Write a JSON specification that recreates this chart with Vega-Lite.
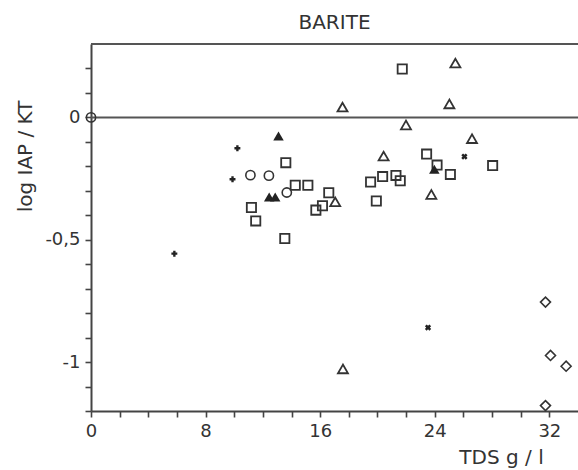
{
  "$schema": "https://vega.github.io/schema/vega-lite/v6.json",
  "width": 487,
  "height": 367,
  "autosize": "none",
  "padding": {"left": 91, "top": 44, "right": 0, "bottom": 59},
  "background": "white",
  "view": {"stroke": null},
  "title": {"text": "BARITE", "font": "DejaVu Sans", "fontSize": 20, "fontWeight": "normal", "color": "#333", "anchor": "middle", "offset": 10},
  "config": {
    "axis": {"grid": false, "domainColor": "#444", "domainWidth": 2, "tickColor": "#444", "tickWidth": 1.6, "tickSize": 6,
      "labelFont": "DejaVu Sans", "labelFontSize": 18, "labelColor": "#333",
      "titleFont": "DejaVu Sans", "titleFontSize": 20, "titleFontWeight": "normal", "titleColor": "#333"},
    "point": {"opacity": 1}
  },
  "datasets": {
    "pts": [
      {"tds": 13.6, "logiap": -0.185, "sym": "square"},
      {"tds": 14.26, "logiap": -0.277, "sym": "square"},
      {"tds": 15.14, "logiap": -0.277, "sym": "square"},
      {"tds": 11.2, "logiap": -0.368, "sym": "square"},
      {"tds": 11.5, "logiap": -0.423, "sym": "square"},
      {"tds": 16.6, "logiap": -0.308, "sym": "square"},
      {"tds": 15.7, "logiap": -0.379, "sym": "square"},
      {"tds": 16.16, "logiap": -0.361, "sym": "square"},
      {"tds": 13.53, "logiap": -0.495, "sym": "square"},
      {"tds": 21.73, "logiap": 0.198, "sym": "square"},
      {"tds": 23.43, "logiap": -0.15, "sym": "square"},
      {"tds": 24.16, "logiap": -0.195, "sym": "square"},
      {"tds": 25.09, "logiap": -0.233, "sym": "square"},
      {"tds": 28.04, "logiap": -0.197, "sym": "square"},
      {"tds": 20.36, "logiap": -0.242, "sym": "square"},
      {"tds": 21.29, "logiap": -0.237, "sym": "square"},
      {"tds": 21.59, "logiap": -0.259, "sym": "square"},
      {"tds": 19.52, "logiap": -0.264, "sym": "square"},
      {"tds": 19.92, "logiap": -0.342, "sym": "square"},
      {"tds": 25.44, "logiap": 0.222, "sym": "triangle"},
      {"tds": 17.56, "logiap": 0.042, "sym": "triangle"},
      {"tds": 25.02, "logiap": 0.055, "sym": "triangle"},
      {"tds": 21.99, "logiap": -0.031, "sym": "triangle"},
      {"tds": 26.6, "logiap": -0.087, "sym": "triangle"},
      {"tds": 20.43, "logiap": -0.158, "sym": "triangle"},
      {"tds": 23.76, "logiap": -0.315, "sym": "triangle"},
      {"tds": 17.05, "logiap": -0.345, "sym": "triangle"},
      {"tds": 17.59, "logiap": -1.028, "sym": "triangle"},
      {"tds": 13.09, "logiap": -0.076, "sym": "filledtriangle"},
      {"tds": 12.44, "logiap": -0.325, "sym": "filledtriangle"},
      {"tds": 12.86, "logiap": -0.325, "sym": "filledtriangle"},
      {"tds": 23.97, "logiap": -0.212, "sym": "filledtriangle"},
      {"tds": 11.13, "logiap": -0.236, "sym": "circle"},
      {"tds": 12.42, "logiap": -0.238, "sym": "circle"},
      {"tds": 13.67, "logiap": -0.307, "sym": "circle"},
      {"tds": 0, "logiap": 0, "sym": "circle"},
      {"tds": 10.22, "logiap": -0.126, "sym": "plus"},
      {"tds": 9.88, "logiap": -0.253, "sym": "plus"},
      {"tds": 5.82, "logiap": -0.557, "sym": "plus"},
      {"tds": 26.07, "logiap": -0.16, "sym": "x"},
      {"tds": 23.53, "logiap": -0.859, "sym": "x"},
      {"tds": 31.73, "logiap": -0.755, "sym": "diamond"},
      {"tds": 32.08, "logiap": -0.973, "sym": "diamond"},
      {"tds": 33.17, "logiap": -1.017, "sym": "diamond"},
      {"tds": 31.73, "logiap": -1.178, "sym": "diamond"}
    ],
    "lines": [{"logiap": 0}, {"logiap": 0.3}]
  },
  "encoding": {
    "y": {"field": "logiap", "type": "quantitative",
      "scale": {"domain": [-1.2, 0.3], "nice": false, "zero": false},
      "axis": {"values": [-1.2, -1.1, -1, -0.9, -0.8, -0.7, -0.6, -0.5, -0.4, -0.3, -0.2, -0.1, 0, 0.1, 0.2],
        "labelExpr": "datum.value == 0 ? '0' : datum.value == -0.5 ? '-0,5' : datum.value == -1 ? '-1' : ''",
        "labelPadding": 5, "labelFlush": false, "labelOverlap": false,
        "title": "log IAP / KT", "titleX": -66, "titleY": 112, "titleAngle": -90, "titleAlign": "center", "titleBaseline": "middle"}}
  },
  "layer": [
    {
      "data": {"name": "lines"},
      "mark": {"type": "rule", "color": "#555", "strokeWidth": 2},
      "encoding": {}
    },
    {
      "data": {"name": "pts"},
      "encoding": {
        "x": {"field": "tds", "type": "quantitative",
          "scale": {"domain": [0, 34], "nice": false, "zero": false},
          "axis": {"values": [0, 2, 4, 6, 8, 10, 12, 14, 16, 18, 20, 22, 24, 26, 28, 30, 32],
            "labelExpr": "datum.value % 8 == 0 ? datum.label : ''",
            "labelPadding": 5, "labelFlush": false, "labelOverlap": false,
            "title": "TDS g / l", "titleX": 410, "titleY": 56, "titleAlign": "center", "titleBaseline": "bottom"}}
      },
      "layer": [
        {
          "transform": [{"filter": "datum.sym == 'square'"}],
          "mark": {"type": "point", "shape": "square", "size": 85, "filled": false, "color": "#333", "strokeWidth": 1.8}
        },
        {
          "transform": [{"filter": "datum.sym == 'triangle'"}],
          "mark": {"type": "point", "shape": "triangle-up", "size": 100, "filled": false, "color": "#333", "strokeWidth": 1.8}
        },
        {
          "transform": [{"filter": "datum.sym == 'filledtriangle'"}],
          "mark": {"type": "point", "shape": "triangle-up", "size": 110, "filled": true, "color": "#222"}
        },
        {
          "transform": [{"filter": "datum.sym == 'circle'"}],
          "mark": {"type": "point", "shape": "circle", "size": 85, "filled": false, "color": "#333", "strokeWidth": 1.6}
        },
        {
          "transform": [{"filter": "datum.sym == 'plus'"}],
          "mark": {"type": "point", "shape": "cross", "size": 35, "filled": true, "color": "#222"}
        },
        {
          "transform": [{"filter": "datum.sym == 'x'"}],
          "mark": {"type": "point", "shape": "cross", "size": 40, "angle": 45, "filled": true, "color": "#222"}
        },
        {
          "transform": [{"filter": "datum.sym == 'diamond'"}],
          "mark": {"type": "point", "shape": "diamond", "size": 100, "filled": false, "color": "#333", "strokeWidth": 1.6}
        }
      ]
    }
  ]
}
